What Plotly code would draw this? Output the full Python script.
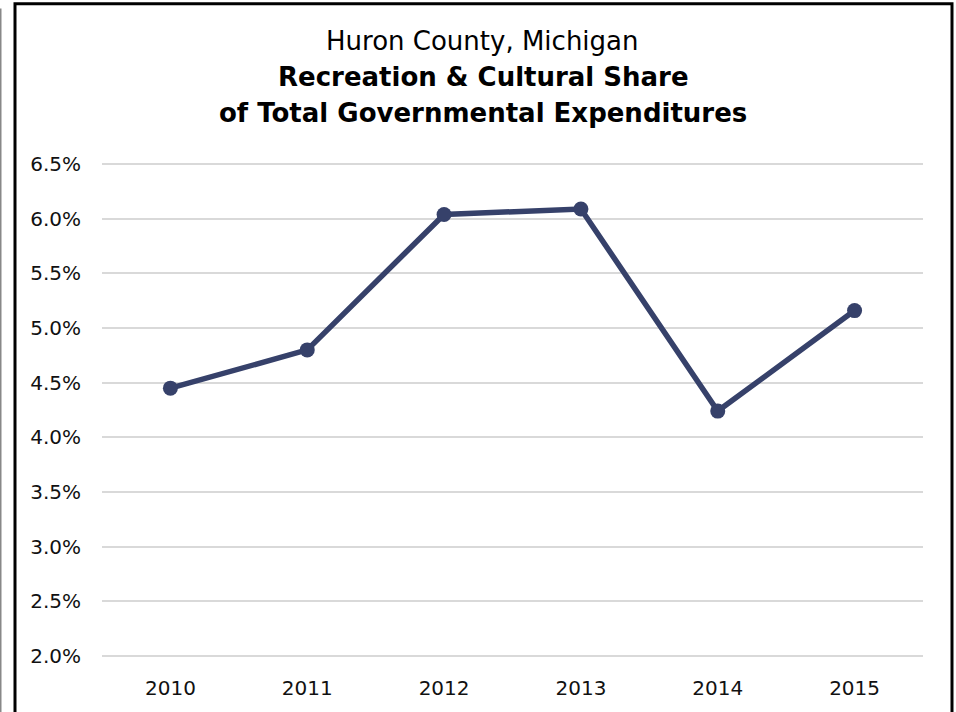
import plotly.graph_objects as go

years = ["2010", "2011", "2012", "2013", "2014", "2015"]
share_pct = [4.45, 4.80, 6.04, 6.09, 4.24, 5.16]
y_ticks = [2.0, 2.5, 3.0, 3.5, 4.0, 4.5, 5.0, 5.5, 6.0, 6.5]

LINE_COLOR = "#36416a"
FONT = "DejaVu Sans"

W, H = 956, 712
L, R, T, B = 102, 33, 162, 52
pw, ph = W - L - R, H - T - B


def px_x(x):
    return (x - L) / pw


def px_y(y):
    return (H - B - y) / ph


fig = go.Figure()
fig.add_trace(go.Scatter(
    x=years, y=share_pct, mode="lines+markers",
    line=dict(color=LINE_COLOR, width=5.5),
    marker=dict(color=LINE_COLOR, size=15),
    hoverinfo="x+y", showlegend=False,
))

fig.update_layout(
    width=W, height=H,
    margin=dict(l=L, r=R, t=T, b=B),
    paper_bgcolor="white", plot_bgcolor="white",
    font=dict(family=FONT, color="#111111"),
    xaxis=dict(type="category", range=[-0.5, 5.5], showgrid=False, showline=False,
               zeroline=False, ticks="", tickfont=dict(size=20), ticklabelstandoff=16),
    yaxis=dict(range=[1.98, 6.52], tickvals=y_ticks,
               ticktext=[f"{v:.1f}%" for v in y_ticks],
               showgrid=True, gridcolor="#d9d9d9", gridwidth=2,
               zeroline=False, showline=False, ticks="",
               tickfont=dict(size=20), ticklabelstandoff=20),
    shapes=[
        dict(type="rect", xref="paper", yref="paper",
             x0=px_x(15), x1=px_x(952), y0=px_y(730), y1=px_y(3),
             line=dict(color="black", width=3), fillcolor="rgba(0,0,0,0)", layer="above"),
        dict(type="line", xref="paper", yref="paper",
             x0=px_x(0.5), x1=px_x(0.5), y0=px_y(730), y1=px_y(8),
             line=dict(color="#888888", width=2)),
    ],
    annotations=[
        dict(text="Huron County, Michigan", xref="paper", yref="paper",
             x=px_x(482), y=px_y(41), showarrow=False, xanchor="center", yanchor="middle",
             font=dict(size=26, family=FONT, color="black")),
        dict(text="<b>Recreation & Cultural Share</b>", xref="paper", yref="paper",
             x=px_x(483), y=px_y(77), showarrow=False, xanchor="center", yanchor="middle",
             font=dict(size=26, family=FONT, color="black")),
        dict(text="<b>of Total Governmental Expenditures</b>", xref="paper", yref="paper",
             x=px_x(483), y=px_y(113), showarrow=False, xanchor="center", yanchor="middle",
             font=dict(size=26, family=FONT, color="black")),
    ],
)

fig.write_html("out.html")
